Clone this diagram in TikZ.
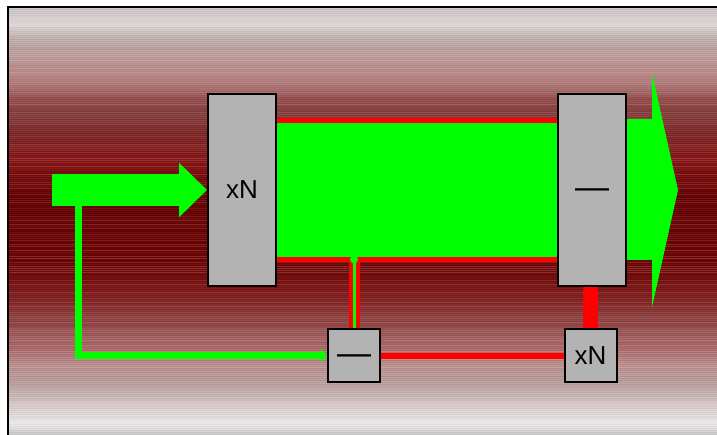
\documentclass[tikz,border=0pt]{standalone}
\usepackage{fontspec}
\setmainfont{Liberation Sans}
\usetikzlibrary{arrows.meta,positioning,calc}
\definecolor{flowgreen}{RGB}{0,255,0}
\definecolor{flowred}{RGB}{255,0,0}
\definecolor{blockgray}{RGB}{179,179,179}
\definecolor{bgsilver}{HTML}{C2C2C2}
\definecolor{bgpaleA}{HTML}{D0C8C8}
\definecolor{bgwhiteA}{HTML}{E0D8D8}
\definecolor{bgfogA}{HTML}{BCAAAA}
\definecolor{bgashA}{HTML}{BC9494}
\definecolor{bgroseA}{HTML}{B07878}
\definecolor{bgpinkA}{HTML}{944C4C}
\definecolor{bgmidA}{HTML}{7C3232}
\definecolor{bgdeepA}{HTML}{802222}
\definecolor{bgdarkA}{HTML}{861414}
\definecolor{bgcore}{HTML}{640000}
\definecolor{bgdarkB}{HTML}{6E0404}
\definecolor{bgdeepB}{HTML}{7E1A1A}
\definecolor{bgmidB}{HTML}{8C4040}
\definecolor{bgpinkB}{HTML}{A86464}
\definecolor{bgroseB}{HTML}{B88888}
\definecolor{bgashB}{HTML}{BCA2A2}
\definecolor{bgpaleB}{HTML}{D8C8C8}
\definecolor{bgwhiteB}{HTML}{EEEAEA}
\pgfdeclareverticalshading{redband}{100bp}{color(0bp)=(bgsilver); color(25bp)=(bgsilver);
  color(26.3bp)=(bgwhiteB); color(28.4bp)=(bgpaleB); color(30.9bp)=(bgashB); color(33.3bp)=(bgroseB);
  color(35.6bp)=(bgpinkB); color(38.4bp)=(bgmidB); color(41.4bp)=(bgdeepB); color(44.8bp)=(bgdarkB);
  color(52.5bp)=(bgcore); color(57.2bp)=(bgdarkA); color(59.5bp)=(bgdeepA); color(61.9bp)=(bgmidA);
  color(64.2bp)=(bgpinkA); color(65.9bp)=(bgroseA); color(68.7bp)=(bgashA); color(71.3bp)=(bgfogA);
  color(73.1bp)=(bgwhiteA); color(74.3bp)=(bgpaleA); color(75bp)=(bgsilver); color(100bp)=(bgsilver)}
\pgfdeclarelayer{backdrop}
\pgfdeclarelayer{flow}
\pgfsetlayers{backdrop,flow,main}

\begin{document}
\begin{tikzpicture}[x=1pt,y=-1pt,
  blockbox/.style={draw=black,line width=2pt,fill=blockgray,inner sep=0pt,font=\fontsize{26}{30}\selectfont},
  tallbox/.style={blockbox,minimum width=68pt,minimum height=192pt},
  smallbox/.style={blockbox,minimum width=52pt,minimum height=53pt},
  minus/.style={font=\fontsize{34}{40}\selectfont,text height=17pt,text depth=0pt},
  redline/.style={flowred,line width=5pt},
  fatarrow/.style={flowgreen,-{Triangle[length=28pt,width=53pt]},line width=32pt},
  fbline/.style={flowgreen,line width=7pt,-{Triangle[length=6pt,width=13pt]}}]
  \useasboundingbox (0,0) rectangle (717,435);
  % Blocks
  \node[tallbox] (gainin) at (242,190) {xN};
  \node[tallbox,minus] (sumout) at (592,190) {—};
  \node[smallbox,minus] (sumfb) at (354,355.5) {—};
  \node[smallbox] (gainfb) at (590.5,355.5) {xN};
  \coordinate (instart) at (52,190);
  \coordinate (outtip) at (678,190);
  \coordinate (fbtap) at (78,200);
  \coordinate (tap) at (sumfb.north |- 0,259.5);
  % Striped backdrop
  \begin{pgfonlayer}{backdrop}
    \shade[shading=redband] (8,7) rectangle (717,435);
    \pgfmathsetseed{11}
    \foreach \y in {9,11,...,433} {
      \pgfmathsetmacro{\op}{0.18*rnd}
      \draw[white,opacity=\op,line width=1pt] (8,\y) -- (717,\y);
    }
    \foreach \y in {10,12,...,434} {
      \pgfmathsetmacro{\op}{0.05*rnd}
      \draw[black,opacity=\op,line width=1pt] (8,\y) -- (717,\y);
    }
    \draw[line width=2pt] (8,436) -- (8,7) -- (718,7);
  \end{pgfonlayer}
  % Signal flow
  \begin{pgfonlayer}{flow}
    \draw[flowgreen,line width=141pt,-{Triangle[length=26pt,width=234pt]}] (gainin.center) -- (outtip);
    \draw[redline] (gainin.east |- 0,120.5) -- (sumout.west |- 0,120.5);
    \draw[redline] (gainin.east |- 0,259.5) -- (sumout.west |- 0,259.5);
    \draw[flowred,line width=11pt] (tap) -- (sumfb.north);
    \draw[flowgreen,line width=3pt] (tap) -- (sumfb.north);
    \fill[flowgreen] (tap) circle (4pt);
    \draw[fatarrow] (instart) -- (gainin.west);
    \draw[fbline] (fbtap) |- (sumfb.west);
    \draw[flowred,line width=6pt] (sumfb.east) -- (gainfb.west);
    \draw[flowred,line width=15pt] (gainfb.north) -- (gainfb.north |- sumout.south);
  \end{pgfonlayer}
\end{tikzpicture}
\end{document}
